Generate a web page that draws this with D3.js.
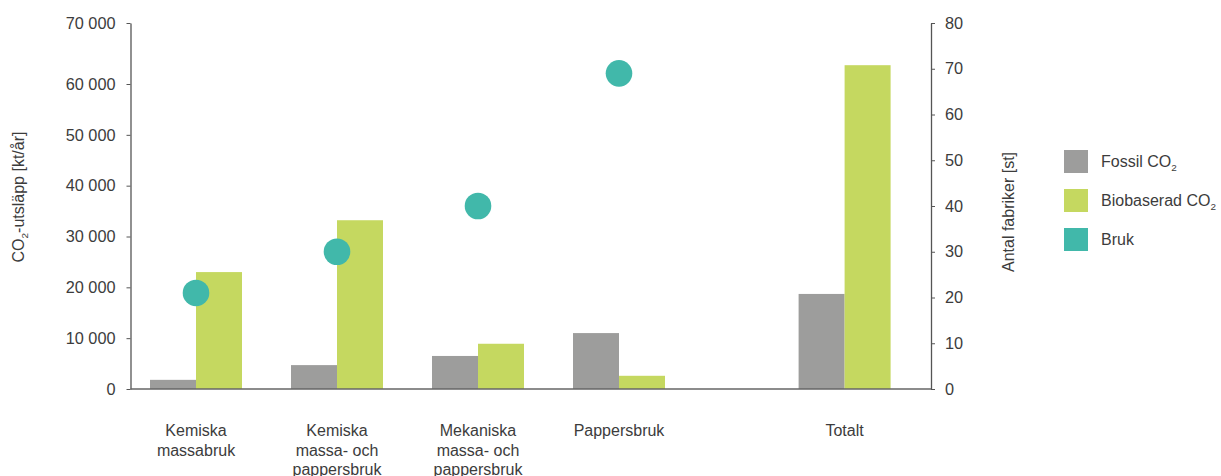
<!DOCTYPE html>
<html>
<head>
<meta charset="utf-8">
<script src="https://cdn.jsdelivr.net/npm/d3@7"></script>
<style>
  html, body { margin: 0; padding: 0; background: #fff; }
  svg text { font-family: "Liberation Sans", Arial, sans-serif; fill: #3c3c3c; }
</style>
</head>
<body>
<svg id="chart" width="1221" height="476"></svg>
<script>
// ---------- data ----------
const categories = ['Kemiska massabruk', 'Kemiska massa- och pappersbruk', 'Mekaniska massa- och pappersbruk', 'Pappersbruk', 'Totalt'];
const categoryLines = [
  ['Kemiska', 'massabruk'],
  ['Kemiska', 'massa- och', 'pappersbruk'],
  ['Mekaniska', 'massa- och', 'pappersbruk'],
  ['Pappersbruk'],
  ['Totalt']
];
const fossil = [1800, 4700, 6500, 11000, 18700];   // kt/år
const bio    = [23000, 33200, 8900, 2600, 63700];  // kt/år
const bruk   = [21, 30, 40, 69, null];             // antal
const leftTicks  = [0, 10000, 20000, 30000, 40000, 50000, 60000, 70000];
const rightTicks = [0, 10, 20, 30, 40, 50, 60, 70, 80];
const leftAxisMax = 72000; // the axis line runs a bit past 60 000; the original puts "70 000" at its top end

const colors = { fossil: '#9d9d9c', bio: '#c5d860', bruk: '#41b8aa' };

// ---------- layout ----------
const svg = d3.select('#chart');
const plotL = 130.5, plotR = 931, plotT = 23, plotB = 389;

const yL = d3.scaleLinear().domain([0, leftAxisMax]).range([plotB, plotT]);
const yR = d3.scaleLinear().domain([0, 80]).range([plotB, plotT]);

// slot index -> group centre; "Totalt" sits after a small gap
const slot = i => (i < 4 ? i : i + 0.6);
const x = d3.scaleLinear().domain([0, 1]).range([196, 337]);
const sub = d3.scaleBand().domain(['fossil', 'bio']).range([-46, 46]);

const fmt = d3.formatLocale({ decimal: ',', thousands: '\u00a0', grouping: [3], currency: ['', ''] }).format(',d');

// ---------- bars ----------
const rows = categories.map((c, i) => ({ c, i, fossil: fossil[i], bio: bio[i], bruk: bruk[i] }));

const groups = svg.append('g').selectAll('g.grp')
  .data(rows)
  .join('g')
  .attr('class', 'grp')
  .attr('transform', d => `translate(${x(slot(d.i))},0)`);

groups.selectAll('rect')
  .data(d => ['fossil', 'bio'].map(k => ({ k, v: d[k] })))
  .join('rect')
  .attr('x', d => sub(d.k))
  .attr('width', sub.bandwidth())
  .attr('y', d => yL(d.v))
  .attr('height', d => plotB - yL(d.v))
  .attr('fill', d => colors[d.k]);

// ---------- axes ----------
// last tick label sits at the top end of the axis, as in the original
const leftTickPos = leftTicks.slice(0, -1).concat([leftAxisMax]);
const axL = svg.append('g')
  .attr('transform', `translate(${plotL},0)`)
  .call(d3.axisLeft(yL).tickValues(leftTickPos)
    .tickFormat((d, i) => fmt(leftTicks[i]))
    .tickSize(4).tickSizeOuter(0).tickPadding(11));

const axR = svg.append('g')
  .attr('transform', `translate(${plotR},0)`)
  .call(d3.axisRight(yR).tickValues(rightTicks).tickSize(4).tickSizeOuter(0).tickPadding(10));

[axL, axR].forEach(a => {
  a.select('.domain').attr('stroke', '#555').attr('stroke-width', 1.3);
  a.selectAll('.tick line').attr('stroke', '#555');
  a.selectAll('.tick text').attr('font-size', 16.3).attr('fill', '#3c3c3c')
    .attr('font-family', '"Liberation Sans", Arial, sans-serif');
});

// baseline
svg.append('line')
  .attr('x1', plotL).attr('x2', plotR)
  .attr('y1', plotB).attr('y2', plotB)
  .attr('stroke', '#666').attr('stroke-width', 1.5);

// ---------- dots (right axis) ----------
svg.append('g').selectAll('circle')
  .data(rows.filter(d => d.bruk != null))
  .join('circle')
  .attr('cx', d => x(slot(d.i)))
  .attr('cy', d => yR(d.bruk))
  .attr('r', 13.3)
  .attr('fill', colors.bruk);

// ---------- category labels ----------
const cat = svg.append('g').attr('class', 'cat');
rows.forEach(d => {
  const t = cat.append('text')
    .attr('text-anchor', 'middle')
    .attr('font-size', 16)
    .attr('y', 436);
  categoryLines[d.i].forEach((line, j) => {
    t.append('tspan')
      .attr('x', x(slot(d.i)))
      .attr('dy', j === 0 ? 0 : 19.5)
      .text(line);
  });
});

// ---------- axis titles ----------
function co2Text(sel, before, after, size) {
  sel.append('tspan').text(before);
  sel.append('tspan').attr('font-size', size * 0.62).attr('dy', 4).text('2');
  if (after) sel.append('tspan').attr('dy', -4).text(after);
}

const tl = svg.append('text')
  .attr('transform', 'translate(24,197) rotate(-90)')
  .attr('text-anchor', 'middle')
  .attr('font-size', 16);
co2Text(tl, 'CO', '-utsläpp [kt/år]', 16);

svg.append('text')
  .attr('transform', 'translate(1014,212) rotate(-90)')
  .attr('text-anchor', 'middle')
  .attr('font-size', 16)
  .text('Antal fabriker [st]');

// ---------- legend ----------
const legendItems = [
  { key: 'fossil', label: 'Fossil CO', sub: true },
  { key: 'bio', label: 'Biobaserad CO', sub: true },
  { key: 'bruk', label: 'Bruk', sub: false }
];
const lg = svg.append('g').attr('transform', 'translate(1064,150)');
legendItems.forEach((d, i) => {
  lg.append('rect')
    .attr('x', 0).attr('y', i * 39)
    .attr('width', 24).attr('height', 23)
    .attr('fill', colors[d.key]);
  const t = lg.append('text')
    .attr('x', 37).attr('y', i * 39 + 17)
    .attr('font-size', 16);
  if (d.sub) co2Text(t, d.label, null, 16);
  else t.text(d.label);
});
</script>
</body>
</html>
